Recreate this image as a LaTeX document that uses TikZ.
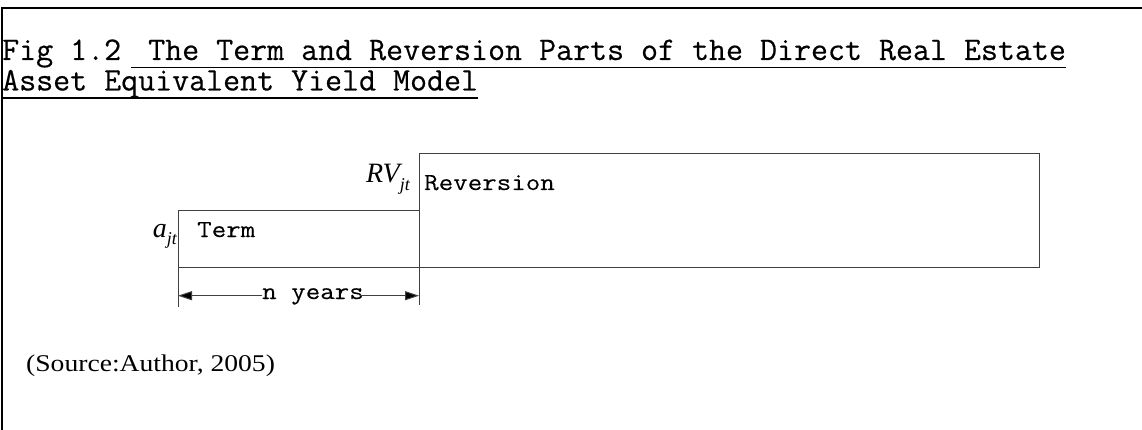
\documentclass[tikz,border=0pt]{standalone}
\usepackage{fontspec}
\setmainfont{Liberation Serif}
\newfontfamily\monofont[FakeBold=0.4]{Latin Modern Mono}
\newfontfamily\lblfont[FakeBold=0.15]{Latin Modern Mono}
\usetikzlibrary{arrows.meta}
\newcommand\widetxt[1]{\scalebox{1.15}[1]{#1}}
\begin{document}
\begin{tikzpicture}[x=1pt,y=-1pt,
  ttl/.style={font=\fontsize{33}{38}\selectfont\monofont, inner sep=0pt, anchor=base west},
  lbl/.style={font=\fontsize{24.5}{28}\selectfont\lblfont, inner sep=0pt, anchor=base west},
  mathlbl/.style={font=\fontsize{28}{32}\selectfont\itshape, inner sep=0pt, anchor=base east},
  box/.style={draw=black!75, line width=1pt, inner sep=0pt, outer sep=0pt, anchor=south west},
  thinline/.style={draw=black!75, line width=1pt},
  uline/.style={draw=black, line width=1.3pt},
  dimarrow/.style={thinline, -{Triangle[length=14pt,width=9pt,fill=black]}}
]
\useasboundingbox (0,0) rectangle (1142,430);
% frame
\draw[line width=2pt] (2,430) -- (2,8) -- (1142,8);

% title
\node[ttl] (fig) at (2,60) {Fig 1.2};
\node[ttl] (t1) at (131,60) {\ The Term and Reversion Parts of the Direct Real Estate};
\node[ttl] (t2) at (2,90.5) {Asset Equivalent Yield Model};
\draw[uline] ([yshift=-7.5pt]t1.base west) -- ([yshift=-7.5pt]t1.base east);
\draw[uline] ([yshift=-7.5pt]t2.base west) -- ([yshift=-7.5pt]t2.base east);

% boxes
\node[box, minimum width=241pt, minimum height=56pt] (term) at (178,267) {};
\node[box, minimum width=620pt, minimum height=113pt] (rev) at (419,267) {};

\node[lbl] (termtxt) at (197,237) {\widetxt{Term}};
\node[lbl] (revtxt) at (424,190) {\widetxt{Reversion}};

% value labels
\node[mathlbl] (ajt) at (177,237) {a\raisebox{-7pt}{\fontsize{18}{20}\selectfont jt}};
\node[mathlbl] (rvjt) at (410,183) {RV\raisebox{-8pt}{\fontsize{18}{20}\selectfont jt}};

% extension lines
\coordinate (eL) at (178,307);
\coordinate (eR) at (419,305);
\draw[thinline] (term.south west) -- (eL);
\draw[thinline] (term.south east) -- (eR);

% dimension arrow
\coordinate (aL) at (178,295.7);
\coordinate (aR) at (419,295.7);
\node[lbl] (ny) at (262,299) {\widetxt{n years}};
\draw[dimarrow] (ny.west |- aL) -- (aL);
\draw[dimarrow] ([xshift=-4pt]ny.east |- aR) -- (aR);

% source
\node[inner sep=0pt, anchor=base west, font=\fontsize{24}{28}\selectfont] (src) at (26,371) {\scalebox{1.15}[1]{(Source:Author, 2005)}};
\end{tikzpicture}
\end{document}
